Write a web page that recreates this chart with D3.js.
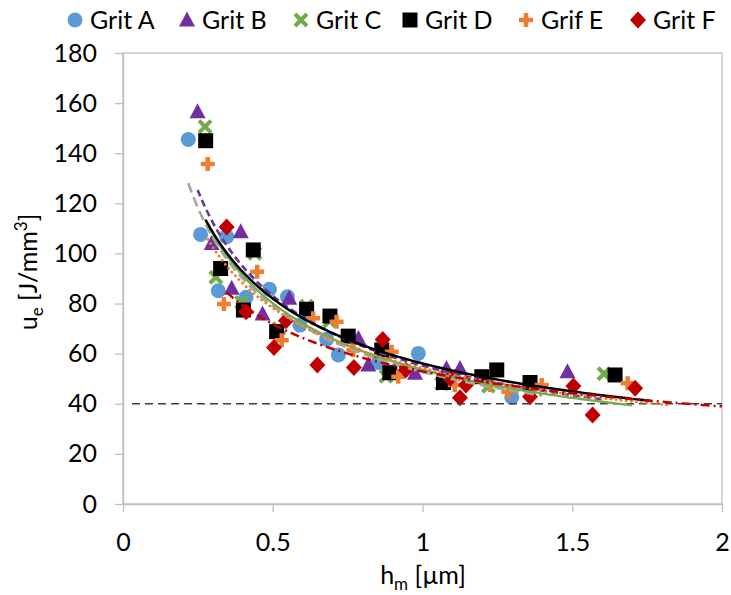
<!DOCTYPE html>
<html><head><meta charset="utf-8">
<script src="https://cdn.jsdelivr.net/npm/d3@7/dist/d3.min.js"></script>
<style>
html,body{margin:0;padding:0;background:#fff;}
svg text{font-family:Lato,"Open Sans",sans-serif;fill:#000;}
</style></head>
<body><svg id="c" width="731" height="595"></svg>
<script>
// ---- data ----
const seriesNames = ["Grit A","Grit B","Grit C","Grit D","Grif E","Grit F"];
const gritA = [[0.218,145.5],[0.259,107.6],[0.346,106.7],[0.318,85.1],[0.411,82.5],[0.489,85.7],[0.549,82.7],[0.591,71.4],[0.68,65.8],[0.719,59.5],[0.853,56.5],[0.986,60.1],[1.298,42.6]];
const gritB = [[0.249,156.6],[0.296,104],[0.363,86.1],[0.393,108.7],[0.466,75.8],[0.555,82.1],[0.786,66.1],[0.819,55.5],[0.975,52.2],[1.08,54.1],[1.125,54.1],[1.484,52.8]];
const gritC = [[0.274,150.6],[0.31,90.5],[0.396,80.5],[0.44,100],[0.52,70],[0.613,79],[0.69,73],[0.75,66],[0.87,60],[0.878,51],[1.064,48],[1.22,47],[1.36,47],[1.606,52]];
const gritD = [[0.276,145],[0.326,94],[0.402,77.4],[0.435,101.4],[0.513,68.8],[0.613,77.7],[0.691,75],[0.752,67],[0.864,61.5],[0.891,52.4],[1.07,48.5],[1.198,50.8],[1.248,53.5],[1.359,48.5],[1.643,51.5]];
const grifE = [[0.283,135.7],[0.337,79.8],[0.448,92.7],[0.53,65.4],[0.635,74.1],[0.713,72.7],[0.769,61.5],[0.897,60.8],[0.919,50.8],[1.108,47.5],[1.225,47.5],[1.287,44.8],[1.398,47.5],[1.685,48.2]];
const gritF = [[0.346,110.6],[0.411,76.7],[0.504,62.5],[0.544,73.1],[0.649,55.5],[0.771,54.5],[0.867,65.7],[0.944,53.5],[1.092,50.2],[1.125,42.4],[1.145,47.5],[1.359,42.8],[1.504,47.1],[1.568,35.5],[1.71,46.2]];
// power trendlines y = a * x^b: [a, b, xStart, xEnd]
const trendA = [52.7,-0.583,0.218,1.40];
const trendB = [55.2,-0.590,0.249,1.60];
const trendC = [53.6,-0.580,0.274,1.70];
const trendD = [56.1,-0.547,0.276,1.76];
const trendE = [54.2,-0.529,0.283,1.82];
const trendF = [52.9,-0.441,0.346,2.00];
const limitValue = 40;
const xTicks = [0,0.5,1,1.5,2];
const yTicks = [0,20,40,60,80,100,120,140,160,180];

// ---- styles ----
const colors = ["#5b9bd5","#7030a0","#70ad47","#000000","#ed7d31","#c00000"];
const shapes = ["circle","triangle","cross","square","plus","diamond"];
const trendStyles = [
  {stroke:"#a5a5a5",dash:"10 5",cap:"butt",w:2.6},
  {stroke:"#7030a0",dash:"7 4",cap:"butt",w:2.6},
  {stroke:"#70ad47",dash:null,cap:"butt",w:2.3},
  {stroke:"#000000",dash:null,cap:"butt",w:2.5},
  {stroke:"#ed7d31",dash:"0.1 5",cap:"round",w:2.8},
  {stroke:"#c00000",dash:"9 4 2 4",cap:"butt",w:2.5}
];
const allSeries = [gritA,gritB,gritC,gritD,grifE,gritF];
const allTrends = [trendA,trendB,trendC,trendD,trendE,trendF];
const FS = 25;

const svg = d3.select("#c");
const x = d3.scaleLinear().domain([0,2]).range([123,722]);
const y = d3.scaleLinear().domain([0,180]).range([504,53]);

// frame
svg.append("rect").attr("x",x(0)).attr("y",y(180)).attr("width",x(2)-x(0)).attr("height",y(0)-y(180))
  .attr("fill","none").attr("stroke","#bfbfbf").attr("stroke-width",1.3);

// axes
const gx = svg.append("g").attr("transform",`translate(0,${y(0)})`)
  .call(d3.axisBottom(x).tickValues(xTicks).tickSize(8).tickSizeOuter(0).tickPadding(21).tickFormat(d=>String(d)));
const gy = svg.append("g").attr("transform",`translate(${x(0)},0)`)
  .call(d3.axisLeft(y).tickValues(yTicks).tickSize(8).tickSizeOuter(0).tickPadding(18).tickFormat(d=>String(d)));
[gx,gy].forEach(g=>{
  g.select(".domain").attr("stroke","#bfbfbf").attr("stroke-width",1.3);
  g.selectAll(".tick line").attr("stroke","#bfbfbf").attr("stroke-width",1.3);
  g.selectAll(".tick text").attr("font-size",FS).attr("font-family","Lato").attr("fill","#000");
});

function symbolPath(shape){
  switch(shape){
    case "circle": return d3.symbol(d3.symbolCircle, Math.PI*7.5*7.5)();
    case "square": return "M-7.5,-7.5H7.5V7.5H-7.5Z";
    case "triangle": return "M0,-8.5L8,6.5L-8,6.5Z";
    case "diamond": return "M0,-8.5L8,0L0,8.5L-8,0Z";
    case "cross": return "M-6,-6L6,6M6,-6L-6,6";
    case "plus": return "M-7,0H7M0,-7V7";
  }
}
function drawMarker(g, shape, color){
  const p = g.append("path").attr("d",symbolPath(shape));
  if(shape==="cross"||shape==="plus"){
    p.attr("fill","none").attr("stroke",color).attr("stroke-width",shape==="cross"?4:4.5);
  } else {
    p.attr("fill",color);
  }
}

// markers
const marks = svg.append("g");
allSeries.forEach((data,i)=>{
  const g = marks.append("g");
  data.forEach(d=>{
    const m = g.append("g").attr("transform",`translate(${x(d[0])},${y(d[1])})`);
    drawMarker(m, shapes[i], colors[i]);
  });
});

// limit line
svg.append("line").attr("x1",x(0.03)).attr("x2",x(2)).attr("y1",y(limitValue)).attr("y2",y(limitValue))
  .attr("stroke","#404040").attr("stroke-width",1.5).attr("stroke-dasharray","8 5");

// trendlines
const line = d3.line().x(d=>x(d[0])).y(d=>y(d[1])).curve(d3.curveLinear);
allTrends.forEach((t,i)=>{
  const pts = d3.range(0,101).map(k=>{const xv=t[2]+(t[3]-t[2])*k/100; return [xv, t[0]*Math.pow(xv,t[1])];});
  const s = trendStyles[i];
  const p = svg.append("path").datum(pts).attr("d",line).attr("fill","none")
    .attr("stroke",s.stroke).attr("stroke-width",s.w).attr("stroke-linecap",s.cap);
  if(s.dash) p.attr("stroke-dasharray",s.dash);
});

// axis titles
const xt = svg.append("text").attr("x",423).attr("y",584).attr("text-anchor","middle").attr("font-size",FS);
xt.append("tspan").text("h");
xt.append("tspan").attr("font-size",17).attr("dy",6).text("m");
xt.append("tspan").attr("dy",-6).text(" [µm]");
const yt = svg.append("text").attr("transform","translate(37,272) rotate(-90)").attr("text-anchor","middle").attr("font-size",FS);
yt.append("tspan").text("u");
yt.append("tspan").attr("font-size",17).attr("dy",6).text("e");
yt.append("tspan").attr("dy",-6).text(" [J/mm");
yt.append("tspan").attr("font-size",17).attr("dy",-10).text("3");
yt.append("tspan").attr("dy",10).text("]");

// legend
const legX = [75,187,301,410,526,638];
const leg = svg.append("g");
seriesNames.forEach((n,i)=>{
  const g = leg.append("g").attr("transform",`translate(${legX[i]},20)`);
  drawMarker(g, shapes[i], colors[i]);
  g.append("text").attr("x",15).attr("y",9).attr("font-size",FS).text(n);
});
</script></body></html>
